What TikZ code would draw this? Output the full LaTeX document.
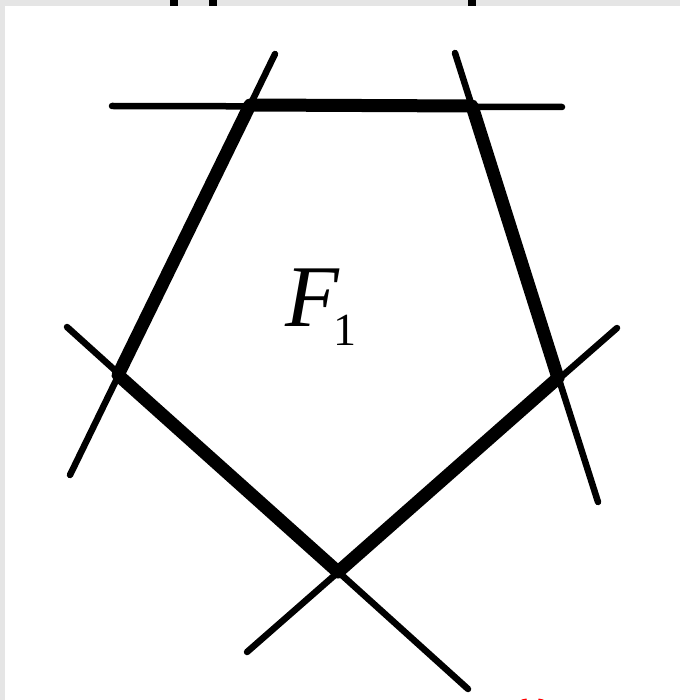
\documentclass[tikz,border=0pt]{standalone}
\usepackage{fontspec}
\setmainfont{Liberation Serif}
\begin{document}
\begin{tikzpicture}[x=1pt,y=-1pt,
  thinline/.style={line width=6.5pt, line cap=round},
  thickline/.style={line width=13pt, line cap=round, line join=round},
  blob/.style={fill=black},
  lbl/.style={inner sep=0pt, outer sep=0pt, anchor=base west}]
\useasboundingbox (0,0) rectangle (680,700);
\fill[gray!20] (0,0) rectangle (680,700);
\fill[white] (5,6) rectangle (680,700);
% top edge artifacts
\fill[blob] (170,0) rectangle (178,6);
\fill[blob] (209,0) rectangle (217,6);
\fill[blob] (468,0) rectangle (476,6);
% pentagon vertices
\coordinate (A) at (250,105);
\coordinate (B) at (472,106);
\coordinate (C) at (558,378);
\coordinate (D) at (338,572);
\coordinate (E) at (118,375);
% line ends
\coordinate (h1) at (112,106);
\coordinate (h2) at (562,107);
\coordinate (l1) at (275,54);
\coordinate (l2) at (70,475);
\coordinate (r1) at (455,53);
\coordinate (r2) at (598,502);
\coordinate (p1) at (67,327);
\coordinate (p2) at (468,689);
\coordinate (q1) at (617,328);
\coordinate (q2) at (247,652);
\draw[thinline] (h1) -- (h2);
\draw[thinline] (l1) -- (l2);
\draw[thinline] (r1) -- (r2);
\draw[thinline] (p1) -- (p2);
\draw[thinline] (q1) -- (q2);
\draw[thickline] (A) -- (B) -- (C) -- (D) -- (E) -- cycle;
\node[lbl] (f) at (285,326) {\fontsize{88}{90}\selectfont\itshape F};
\node[lbl] (one) at (333,345) {\fontsize{46}{48}\selectfont 1};
% red partial glyph at bottom edge
\draw[red, line width=5pt] (524,699) arc[start angle=180, end angle=0, radius=8.5];
\end{tikzpicture}
\end{document}
